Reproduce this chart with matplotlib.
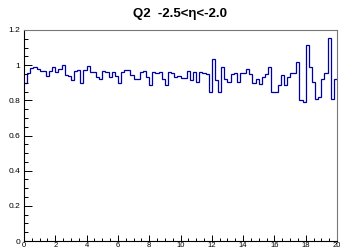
import matplotlib
matplotlib.use("Agg")
import matplotlib.pyplot as plt
import numpy as np
from matplotlib.ticker import MultipleLocator, FuncFormatter

# Q2 ratio per eta slice, 100 bins over 0..20
x_min, x_max = 0.0, 20.0
q2_values = [
    0.90, 0.958, 0.983, 0.992, 0.978, 0.969, 0.965, 0.940, 0.969, 0.992,
    0.963, 0.977, 1.002, 0.945, 0.940, 0.917, 0.969, 0.973, 0.898, 0.973,
    0.996, 0.960, 0.963, 0.932, 0.920, 0.965, 0.963, 0.932, 0.963, 0.940,
    0.900, 0.963, 0.973, 0.973, 0.945, 0.920, 0.920, 0.960, 0.969, 0.935,
    0.890, 0.960, 0.955, 0.960, 0.920, 0.888, 0.963, 0.958, 0.932, 0.940,
    0.927, 0.927, 0.965, 0.917, 0.960, 0.907, 0.960, 0.958, 0.950, 0.850,
    1.034, 0.917, 0.850, 0.992, 0.920, 0.902, 0.950, 0.958, 0.907, 0.958,
    0.958, 0.977, 0.950, 0.898, 0.920, 0.894, 0.932, 0.950, 0.992, 0.850,
    0.850, 0.890, 0.945, 0.890, 0.935, 0.955, 0.955, 1.020, 0.800, 0.790,
    1.115, 0.990, 0.906, 0.810, 0.820, 0.920, 0.955, 1.155, 0.810, 0.920,
]
title = "Q2  -2.5<\u03b7<-2.0"

plt.rcParams["font.family"] = ["Liberation Sans", "DejaVu Sans"]

fig = plt.figure(figsize=(3.4, 2.5), dpi=100)
ax = fig.add_axes([24 / 340, 9 / 250, 313 / 340, 211 / 250])

edges = np.linspace(x_min, x_max, len(q2_values) + 1)
ax.stairs(q2_values, edges, baseline=None, color="#0000a0", linewidth=0.9)

ax.set_xlim(x_min, x_max)
ax.set_ylim(0.0, 1.2)

ax.xaxis.set_major_locator(MultipleLocator(2))
ax.xaxis.set_minor_locator(MultipleLocator(0.5))
ax.yaxis.set_major_locator(MultipleLocator(0.2))
ax.yaxis.set_minor_locator(MultipleLocator(0.05))


def root_fmt(v, _pos):
    s = f"{v:.1f}"
    return s[:-2] if s.endswith(".0") else s


ax.xaxis.set_major_formatter(FuncFormatter(root_fmt))
ax.yaxis.set_major_formatter(FuncFormatter(root_fmt))

ax.tick_params(axis="both", which="both", direction="in", colors="black",
               width=0.7, labelsize=6, top=False, right=False)
ax.tick_params(axis="y", which="major", length=5.5, pad=2.5)
ax.tick_params(axis="y", which="minor", length=3.0)
ax.tick_params(axis="x", which="major", length=4.3, pad=0.8, labelsize=5.5)
ax.tick_params(axis="x", which="minor", length=2.0)

for side in ("left", "bottom"):
    ax.spines[side].set_color("black")
    ax.spines[side].set_linewidth(0.8)
for side in ("top", "right"):
    ax.spines[side].set_color("#777777")
    ax.spines[side].set_linewidth(0.8)

fig.text(180 / 340, 1 - 14 / 250, title, ha="center", va="center",
         fontsize=9.5, fontweight="bold")

fig.savefig("out.png", dpi=100)
